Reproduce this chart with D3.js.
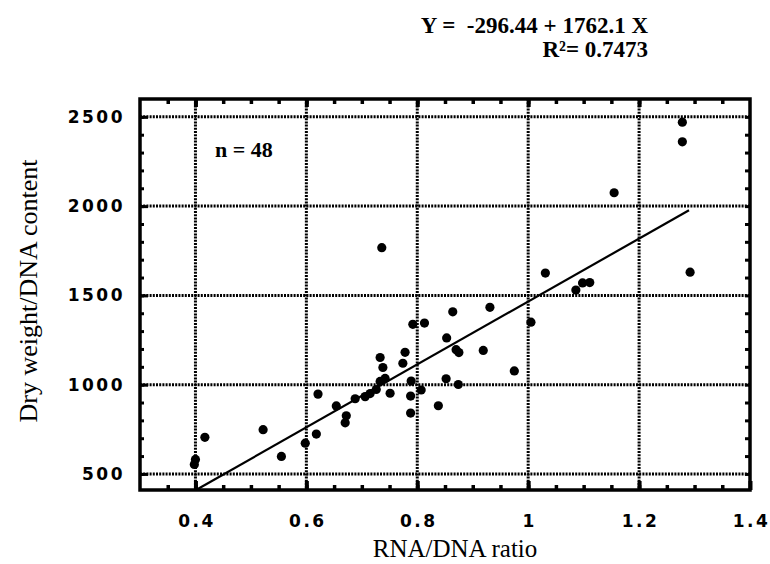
<!DOCTYPE html>
<html>
<head>
<meta charset="utf-8">
<script src="https://cdn.jsdelivr.net/npm/d3@7/dist/d3.min.js"></script>
<style>
  body { margin: 0; background: #fff; }
</style>
</head>
<body>
<div id="chart"></div>
<script>
// Data (n = 48)
var rnaDna = [1.278, 1.278, 1.155, 1.292, 1.031, 1.086, 1.098, 1.111, 1.005, 0.931,
  0.864, 0.919, 0.975, 0.736, 0.792, 0.813, 0.853, 0.870, 0.733, 0.778,
  0.738, 0.774, 0.733, 0.789, 0.852, 0.874, 0.807, 0.621, 0.715, 0.751,
  0.688, 0.788, 0.654, 0.838, 0.788, 0.672, 0.670, 0.618, 0.598, 0.555,
  0.522, 0.417, 0.400, 0.398, 0.706, 0.726, 0.875, 0.742];
var dryWeight = [2470, 2360, 2075, 1630, 1625, 1530, 1570, 1572, 1350, 1433,
  1408, 1192, 1077, 1767, 1338, 1345, 1262, 1196, 1152, 1181,
  1096, 1120, 1018, 1020, 1033, 1001, 970, 947, 950, 952,
  921, 936, 881, 882, 841, 826, 786, 723, 672, 598,
  748, 705, 581, 553, 933, 973, 1180, 1035];

// Axis ticks
var xTickValues = [0.4, 0.6, 0.8, 1, 1.2, 1.4];
var xTickLabels = ["0.4", "0.6", "0.8", "1", "1.2", "1.4"];
var yTickValues = [500, 1000, 1500, 2000, 2500];
var yTickLabels = ["500", "1000", "1500", "2000", "2500"];
var xGridValues = [0.4, 0.6, 0.8, 1, 1.2];
var yGridValues = [500, 1000, 1500, 2000, 2500];

// Regression: Y = -296.44 + 1762.1 X
var fitIntercept = -296.44;
var fitSlope = 1762.1;
var fitXRange = [0.401, 1.29];

// svg container
var svgWidth = 770;
var svgHeight = 564;

var margin = { top: 99, right: 20, bottom: 74, left: 140 };
var chartWidth = svgWidth - margin.left - margin.right;
var chartHeight = svgHeight - margin.top - margin.bottom;

var svg = d3.select("#chart").append("svg")
  .attr("width", svgWidth)
  .attr("height", svgHeight)
  .style("display", "block");

var chartGroup = svg.append("g")
  .attr("transform", "translate(" + margin.left + "," + margin.top + ")");

var xScale = d3.scaleLinear().domain([0.3, 1.4]).range([0, chartWidth]);
var yScale = d3.scaleLinear().domain([410, 2600]).range([chartHeight, 0]);

// dotted grid
chartGroup.selectAll(".vgrid")
  .data(xGridValues)
  .enter().append("line")
  .attr("class", "vgrid")
  .attr("x1", function(d) { return xScale(d); })
  .attr("x2", function(d) { return xScale(d); })
  .attr("y1", 0)
  .attr("y2", chartHeight)
  .attr("stroke", "#000")
  .attr("stroke-width", 3)
  .attr("stroke-dasharray", "2,1.2");

chartGroup.selectAll(".hgrid")
  .data(yGridValues)
  .enter().append("line")
  .attr("class", "hgrid")
  .attr("x1", 0)
  .attr("x2", chartWidth)
  .attr("y1", function(d) { return yScale(d); })
  .attr("y2", function(d) { return yScale(d); })
  .attr("stroke", "#000")
  .attr("stroke-width", 3)
  .attr("stroke-dasharray", "2,1.2");

// minor ticks, pointing inward on all four sides
var xMinor = d3.range(0.35, 1.36, 0.05);
var yMinor = d3.range(500, 2600, 100);

function styleTicks(g, width) {
  g.select(".domain").remove();
  g.selectAll(".tick line").attr("stroke", "#000").attr("stroke-width", width);
}

chartGroup.append("g")
  .attr("transform", "translate(0," + chartHeight + ")")
  .call(d3.axisBottom(xScale).tickValues(xMinor).tickSize(-5).tickFormat(""))
  .call(styleTicks, 3.5);
chartGroup.append("g")
  .call(d3.axisTop(xScale).tickValues(xMinor).tickSize(-5).tickFormat(""))
  .call(styleTicks, 3.5);
chartGroup.append("g")
  .call(d3.axisLeft(yScale).tickValues(yMinor).tickSize(-4).tickFormat(""))
  .call(styleTicks, 3);
chartGroup.append("g")
  .attr("transform", "translate(" + chartWidth + ",0)")
  .call(d3.axisRight(yScale).tickValues(yMinor).tickSize(-5).tickFormat(""))
  .call(styleTicks, 3);

// major ticks + labels
var bottomAxis = d3.axisBottom(xScale)
  .tickValues(xTickValues)
  .tickSize(-9)
  .tickPadding(25)
  .tickFormat(function(d, i) { return xTickLabels[i]; });

var leftAxis = d3.axisLeft(yScale)
  .tickValues(yTickValues)
  .tickSize(-8)
  .tickPadding(15)
  .tickFormat(function(d, i) { return yTickLabels[i]; });

chartGroup.append("g")
  .attr("class", "x axis")
  .attr("transform", "translate(0," + chartHeight + ")")
  .call(bottomAxis)
  .call(styleTicks, 4);

chartGroup.append("g")
  .attr("class", "y axis")
  .call(leftAxis)
  .call(styleTicks, 3);

chartGroup.append("g")
  .call(d3.axisTop(xScale).tickValues(xGridValues).tickSize(-8).tickFormat(""))
  .call(styleTicks, 4);

chartGroup.selectAll(".axis text")
  .attr("fill", "#000")
  .style("font-family", "'DejaVu Sans', sans-serif")
  .style("font-weight", "bold")
  .style("font-size", "17px")
  .style("letter-spacing", "2.5px");

chartGroup.selectAll(".x.axis text").attr("dx", "1px");

// frame
chartGroup.append("rect")
  .attr("x", 0)
  .attr("y", 0)
  .attr("width", chartWidth)
  .attr("height", chartHeight)
  .attr("fill", "none")
  .attr("stroke", "#000")
  .attr("stroke-width", 3.5);

// regression line
chartGroup.append("line")
  .attr("x1", xScale(fitXRange[0]))
  .attr("y1", yScale(fitIntercept + fitSlope * fitXRange[0]))
  .attr("x2", xScale(fitXRange[1]))
  .attr("y2", yScale(fitIntercept + fitSlope * fitXRange[1]))
  .attr("stroke", "#000")
  .attr("stroke-width", 2.2);

// points
chartGroup.selectAll("circle")
  .data(rnaDna)
  .enter()
  .append("circle")
  .attr("cx", function(d) { return xScale(d); })
  .attr("cy", function(d, i) { return yScale(dryWeight[i]); })
  .attr("r", 4.6)
  .attr("fill", "#000");

// n label
chartGroup.append("text")
  .attr("x", 75)
  .attr("y", 58)
  .style("font-family", "'Liberation Serif', serif")
  .style("font-weight", "bold")
  .style("font-size", "22px")
  .text("n = 48");

// equation
svg.append("text")
  .attr("x", 648)
  .attr("y", 33)
  .attr("text-anchor", "end")
  .style("font-family", "'Liberation Serif', serif")
  .style("font-weight", "bold")
  .style("font-size", "23px")
  .style("white-space", "pre")
  .text("Y =  -296.44 + 1762.1 X");

svg.append("text")
  .attr("x", 648)
  .attr("y", 57)
  .attr("text-anchor", "end")
  .style("font-family", "'Liberation Serif', serif")
  .style("font-weight", "bold")
  .style("font-size", "23px")
  .text("R\u00b2= 0.7473");

// axis titles
svg.append("text")
  .attr("transform", "translate(455,557)")
  .style("text-anchor", "middle")
  .style("font-family", "'Liberation Serif', serif")
  .style("font-size", "25px")
  .text("RNA/DNA ratio");

svg.append("text")
  .attr("transform", "translate(37,291) rotate(-90)")
  .style("text-anchor", "middle")
  .style("font-family", "'Liberation Serif', serif")
  .style("font-size", "26px")
  .text("Dry weight/DNA content");
</script>
</body>
</html>
